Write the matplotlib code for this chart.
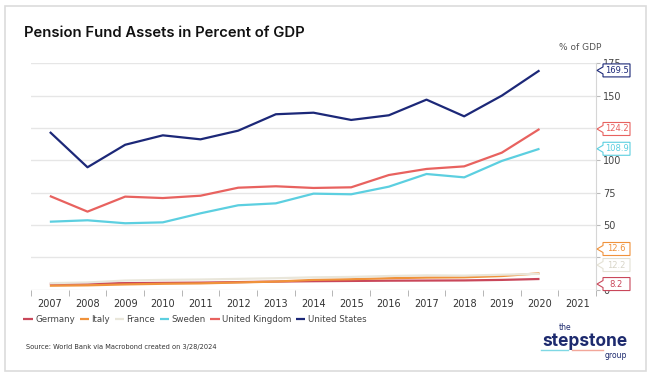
import matplotlib
matplotlib.use('Agg')
import matplotlib.pyplot as plt
from matplotlib.patches import Polygon, Rectangle
from matplotlib.lines import Line2D
from matplotlib.transforms import IdentityTransform

# Pension fund assets, % of GDP
years = list(range(2007, 2021))
germany = [4.5, 4.6, 5.0, 5.2, 5.4, 5.8, 6.2, 6.5, 6.7, 6.9, 7.0, 7.1, 7.5, 8.2]
italy = [3.0, 3.3, 4.0, 4.5, 4.8, 5.5, 6.2, 7.5, 8.0, 8.8, 9.3, 9.5, 10.5, 12.6]
france = [5.0, 5.5, 7.0, 7.5, 7.8, 8.3, 8.8, 9.5, 9.8, 10.5, 11.0, 10.8, 11.5, 12.2]
sweden = [52.5, 53.6, 51.3, 52.0, 59.0, 65.2, 66.7, 74.2, 73.7, 79.6, 89.4, 86.8, 99.5, 108.9]
uk = [72.4, 60.3, 71.9, 70.8, 72.6, 78.8, 79.9, 78.6, 79.1, 88.6, 93.3, 95.3, 105.9, 124.2]
us = [121.9, 94.6, 112.0, 119.3, 116.2, 122.9, 135.6, 136.8, 131.2, 134.8, 146.9, 134.0, 150.0, 169.5]

names = ['Germany', 'Italy', 'France', 'Sweden', 'United Kingdom', 'United States']
series = [germany, italy, france, sweden, uk, us]
colors = ['#c9475a', '#f0923b', '#e9e6da', '#5ccfe0', '#e8625f', '#1c2878']
# where the value boxes sit on the right (bottom ones are pushed apart)
label_at = [4.3, 31.4, 19.0, 108.9, 124.2, 169.5]

fig = plt.figure(figsize=(6.5, 3.79), dpi=100)
ax = fig.add_axes([31 / 650, 1 - 289.6 / 379, 565 / 650, (289.6 - 63.3) / 379])

for name, vals, c in zip(names, series, colors):
    ax.plot(years, vals, color=c, lw=1.6, label=name, solid_capstyle='butt')

ax.set_xlim(2006.5, 2021.5)
ax.set_ylim(0, 175)
ax.set_yticks(range(0, 176, 25))
# 25 and 125 sit under the value boxes
ax.set_yticklabels(['0', '', '50', '75', '100', '', '150', '175'])
ax.yaxis.tick_right()
ax.grid(axis='y', color='#e6e6e6', lw=1)
ax.set_axisbelow(True)
for s in ['top', 'left', 'bottom']:
    ax.spines[s].set_visible(False)
ax.spines['right'].set_color('#d6d6d6')
ax.tick_params(axis='y', length=3, color='#bbbbbb', labelsize=7, labelcolor='#444444', pad=2)

ax.set_xticks(range(2007, 2022))
ax.set_xticks([y + 0.5 for y in range(2006, 2022)], minor=True)
ax.tick_params(axis='x', which='major', length=0, labelsize=7, labelcolor='#333333', pad=7)
ax.tick_params(axis='x', which='minor', length=4, color='#aaaaaa')

fig.text(24 / 650, 1 - 33 / 379, 'Pension Fund Assets in Percent of GDP', fontsize=10.7,
         fontweight='semibold', family='Inter', va='center', color='#111111')
fig.text(580 / 650, 1 - 47 / 379, '% of GDP', fontsize=6.5, color='#555555', ha='center', va='center')

# value callouts on the right axis
fig.canvas.draw()
ident = IdentityTransform()
x_axis = ax.transAxes.transform((1, 0))[0]
for v, ly, c in zip([s[-1] for s in series], label_at, colors):
    yc = ax.transData.transform((2021, ly))[1]
    x0, x1, h = x_axis + 7, x_axis + 34, 13
    pts = [(x0, yc + h / 2), (x1, yc + h / 2), (x1, yc - h / 2), (x0, yc - h / 2),
           (x0, yc - 3.5), (x_axis + 1, yc), (x0, yc + 3.5)]
    ec = c if c != '#e9e6da' else '#e4e1d4'
    fig.add_artist(Polygon(pts, closed=True, facecolor='white', edgecolor=ec, lw=0.8,
                           transform=ident, zorder=5))
    tc = c if c != '#e9e6da' else '#d8d5c8'
    fig.text((x0 + x1) / 2, yc, f'{v:.1f}', transform=ident, fontsize=6, color=tc,
             ha='center', va='center', zorder=6)

fig.legend(loc='center left', bbox_to_anchor=(20 / 650, 1 - 320 / 379), ncol=6, frameon=False,
           fontsize=6.2, handlelength=1.1, handletextpad=0.3, columnspacing=0.5,
           labelcolor='#444444', borderaxespad=0)

fig.text(26 / 650, 1 - 347 / 379, 'Source: World Bank via Macrobond created on 3/28/2024',
         fontsize=4.8, color='#333333', va='center')

# logo
navy = '#1d2a6e'
fig.text(565 / 650, 1 - 328 / 379, 'the', fontsize=5.5, color=navy, ha='center', va='center')
fig.text(585 / 650, 1 - 342 / 379, 'stepstone', fontsize=12.5, fontweight='bold', family='Inter',
         color=navy, ha='center', va='center')
fig.text(616 / 650, 1 - 355 / 379, 'group', fontsize=5.5, color=navy, ha='center', va='center')
fig.add_artist(Line2D([541 / 650, 568 / 650], [1 - 350 / 379] * 2, color='#7fd8e4', lw=1))
fig.add_artist(Line2D([572 / 650, 603 / 650], [1 - 350 / 379] * 2, color='#f2a79a', lw=1))

# card border
fig.add_artist(Rectangle((5 / 650, 1 - 371 / 379), 641 / 650, 365 / 379, fill=False,
                         edgecolor='#dcdcdc', lw=1.2, transform=fig.transFigure))

fig.savefig('out.png', dpi=100)
